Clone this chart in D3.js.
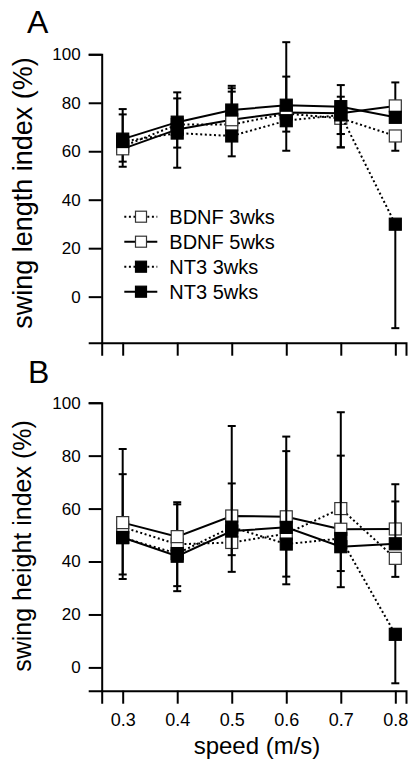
<!DOCTYPE html>
<html><head><meta charset="utf-8">
<script src="https://cdn.jsdelivr.net/npm/d3@7"></script>
<style>
html,body{margin:0;padding:0;background:#fff;}
svg text{font-family:"Liberation Sans",Arial,Helvetica,sans-serif;fill:#000;}
</style></head>
<body>
<svg id="c" width="417" height="766"></svg>
<script>
const speeds = [0.3, 0.4, 0.5, 0.6, 0.7, 0.8];
const speedTicks = ["0.3","0.4","0.5","0.6","0.7","0.8"];
const yTicks = [0, 20, 40, 60, 80, 100];
const seriesNames = ["BDNF 3wks", "BDNF 5wks", "NT3 3wks", "NT3 5wks"];

// Panel A: swing length index (%)
const lenBDNF3 = [62, 71, 71, 75.5, 73.6, 66.3];
const lenBDNF5 = [61, 69, 73, 76, 75.7, 78.7];
const lenNT33  = [64, 67.5, 66.3, 72.6, 75, 29.9];
const lenNT35  = [65, 72, 77, 79, 78.4, 74];
const lenBDNF3Up = [0, 10.8, 13.6, 0, 0, 0];
const lenBDNF3Dn = [8.4, 0, 0, 7.4, 12, 6.1];
const lenBDNF5Up = [0, 0, 13, 14.8, 0, 9.7];
const lenBDNF5Dn = [5.3, 7.5, 0, 0, 8.6, 0];
const lenNT33Up  = [11.2, 0, 0, 0, 12.3, 0];
const lenNT33Dn  = [0, 14.3, 8.4, 12.4, 13.4, 42.9];
const lenNT35Up  = [12.4, 12.3, 10, 26, 4.1, 0];
const lenNT35Dn  = [0, 0, 0, 0, 11.3, 0];

// Panel B: swing height index (%)
const htBDNF3 = [53, 46.5, 47.2, 50.5, 60, 41.2];
const htBDNF5 = [54.7, 49.4, 57.2, 56.9, 52.2, 52.3];
const htNT33  = [49, 43, 53, 46.6, 48.7, 12.5];
const htNT35  = [49.1, 42, 51.5, 52.9, 45.6, 46.7];
const htBDNF3Up = [20, 15.1, 0, 0, 36.4, 0];
const htBDNF3Dn = [0, 0, 4.8, 19.1, 0, 7];
const htBDNF5Up = [27.8, 13, 34, 30.3, 27.8, 16.9];
const htBDNF5Dn = [0, 0, 0, 0, 0, 0];
const htNT33Up  = [0, 0, 16.5, 0, 0, 0];
const htNT33Dn  = [15.6, 14.2, 0, 12.3, 12.3, 18.5];
const htNT35Up  = [0, 0, 0, 28.8, 0, 16];
const htNT35Dn  = [14, 11.3, 15.4, 0, 15.3, 0];

const styles = [
  {fill:"#fff", dash:"2,2.6"},
  {fill:"#fff", dash:null},
  {fill:"#000", dash:"2,2.6"},
  {fill:"#000", dash:null}
];

const svg = d3.select("#c");
const FONT = '"Liberation Sans",Arial,Helvetica,sans-serif';

function panel(cfg){
  const x = d3.scaleLinear().domain([0.2615, 0.8196]).range([101.7, 406]);
  const y = d3.scaleLinear().domain(cfg.ydom).range(cfg.yrange);
  const g = svg.append("g");

  const xa = d3.axisBottom(x).tickValues(speeds).tickSizeOuter(0).tickSize(13).tickPadding(10)
    .tickFormat((d,i)=> cfg.xlabels ? speedTicks[i] : "");
  const gx = g.append("g").attr("transform",`translate(0,${cfg.yrange[0]})`).call(xa);
  const ya = d3.axisLeft(y).tickValues(yTicks).tickSizeOuter(0).tickSize(13).tickPadding(8);
  const gy = g.append("g").attr("transform",`translate(101.7,0)`).call(ya);
  [gx,gy].forEach(a=>{
    a.select(".domain").attr("stroke","#000").attr("stroke-width",2);
    a.selectAll(".tick line").attr("stroke","#000").attr("stroke-width",2);
    a.selectAll(".tick text").style("font-family",FONT).attr("fill","#000");
  });
  gx.selectAll(".tick text").style("font-size","18px");
  gy.selectAll(".tick text").style("font-size","17px");

  const line = d3.line().x((d,i)=>x(speeds[i])).y(d=>y(d));
  cfg.series.forEach((s,k)=>{
    const st = styles[k];
    const sg = g.append("g");
    sg.append("path").attr("d", line(s.v)).attr("fill","none").attr("stroke","#000")
      .attr("stroke-width",2).attr("stroke-dasharray", st.dash);
    s.v.forEach((v,i)=>{
      const cx = x(speeds[i]);
      [[s.up[i],1],[s.dn[i],-1]].forEach(([e,dir])=>{
        if(!e) return;
        const ye = y(v + dir*e);
        sg.append("line").attr("x1",cx).attr("x2",cx).attr("y1",y(v)).attr("y2",ye)
          .attr("stroke","#000").attr("stroke-width",2);
        sg.append("line").attr("x1",cx-4).attr("x2",cx+4).attr("y1",ye).attr("y2",ye)
          .attr("stroke","#000").attr("stroke-width",2);
      });
    });
    s.v.forEach((v,i)=>{
      sg.append("rect").attr("x",x(speeds[i])-6).attr("y",y(v)-6).attr("width",12).attr("height",12)
        .attr("fill",st.fill).attr("stroke", k<2 ? "#333" : "#000").attr("stroke-width",1.2);
    });
  });

  g.append("text").attr("transform",`translate(${cfg.titleX},${cfg.titleY}) rotate(-90)`)
    .attr("text-anchor","middle").style("font-size",cfg.titleSize+"px").text(cfg.title);
  g.append("text").attr("x",cfg.letterX).attr("y",cfg.letterY).style("font-size","32px").text(cfg.letter);
  return {x,y,g};
}

const A = panel({
  ydom:[-19,100], yrange:[342.7,54.3], xlabels:false,
  series:[
    {v:lenBDNF3, up:lenBDNF3Up, dn:lenBDNF3Dn},
    {v:lenBDNF5, up:lenBDNF5Up, dn:lenBDNF5Dn},
    {v:lenNT33, up:lenNT33Up, dn:lenNT33Dn},
    {v:lenNT35, up:lenNT35Up, dn:lenNT35Dn}
  ],
  title:"swing length index (%)", titleX:32, titleY:193, titleSize:27,
  letter:"A", letterX:27, letterY:33
});

const B = panel({
  ydom:[-8.8,100], yrange:[690.7,402.7], xlabels:true,
  series:[
    {v:htBDNF3, up:htBDNF3Up, dn:htBDNF3Dn},
    {v:htBDNF5, up:htBDNF5Up, dn:htBDNF5Dn},
    {v:htNT33, up:htNT33Up, dn:htNT33Dn},
    {v:htNT35, up:htNT35Up, dn:htNT35Dn}
  ],
  title:"swing height index (%)", titleX:31, titleY:546, titleSize:25,
  letter:"B", letterX:28, letterY:383
});

svg.append("text").attr("x",257).attr("y",754).attr("text-anchor","middle")
  .style("font-size","24px").text("speed (m/s)");

// Legend in panel A
const leg = svg.append("g");
seriesNames.forEach((n,k)=>{
  const ly = 216.7 + k*25;
  const st = styles[k];
  leg.append("line").attr("x1",124.3).attr("x2",157.3).attr("y1",ly).attr("y2",ly)
    .attr("stroke","#000").attr("stroke-width",2).attr("stroke-dasharray",st.dash);
  leg.append("rect").attr("x",141-5.5).attr("y",ly-5.5).attr("width",11).attr("height",11)
    .attr("fill",st.fill).attr("stroke", k<2 ? "#333" : "#000").attr("stroke-width",1.2);
  leg.append("text").attr("x",169.3).attr("y",ly+7).style("font-size","20px").text(n);
});
</script>
</body></html>
